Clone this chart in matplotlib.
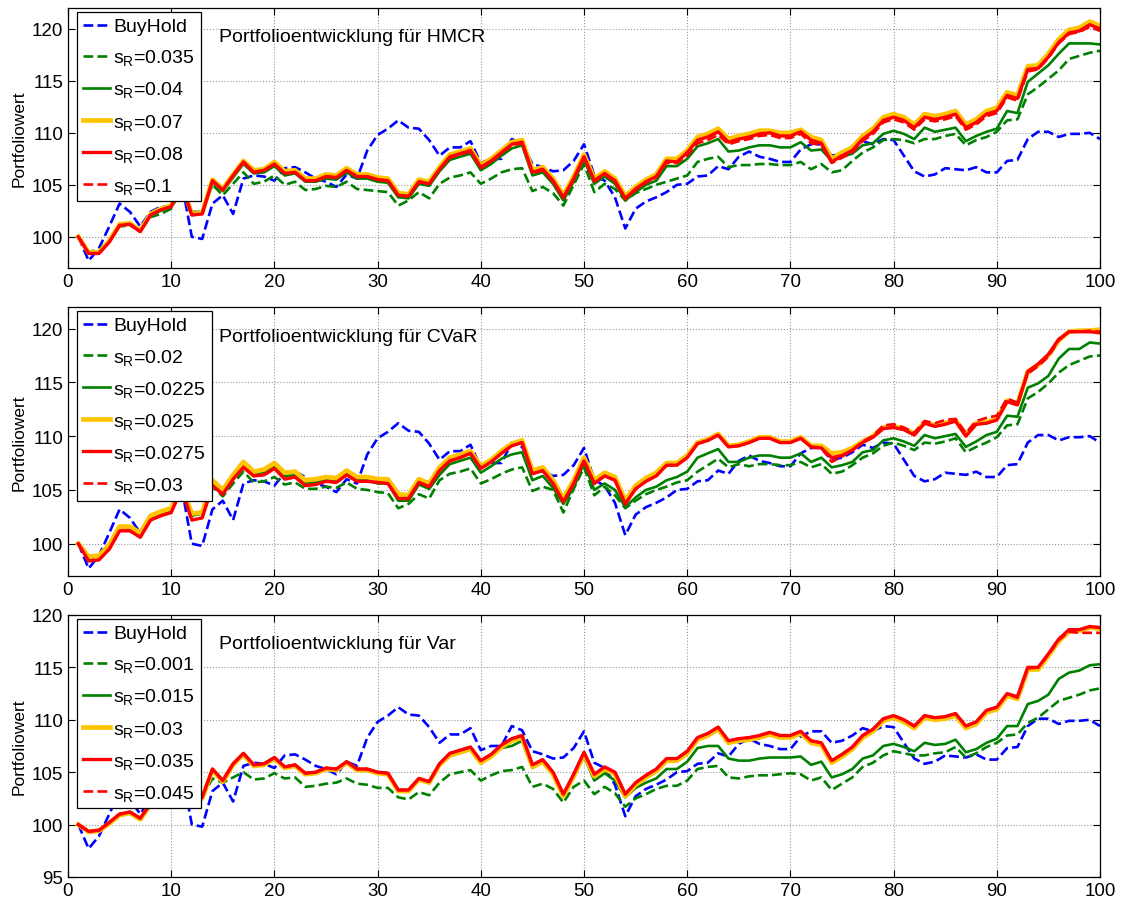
import numpy as np
import matplotlib
matplotlib.use("Agg")
import matplotlib.pyplot as plt

plt.rcParams["font.family"] = ["Liberation Sans", "DejaVu Sans"]
plt.rcParams["mathtext.default"] = "regular"

# time axis (1..100)
steps = np.arange(1, 101)

# BuyHold, identical in all three panels
buyhold = [
    100.0, 97.7, 98.9, 101.0, 103.2, 102.4, 101.0, 102.4, 102.9, 102.9,
    105.3, 100.0, 99.8, 103.2, 104.0, 102.2, 105.6, 105.9, 105.8, 105.4,
    106.6, 106.7, 106.2, 105.6, 105.3, 104.8, 106.0, 105.6, 108.3, 109.8,
    110.4, 111.2, 110.5, 110.4, 109.3, 107.8, 108.6, 108.6, 109.2, 107.1,
    107.5, 107.5, 109.4, 109.0, 107.0, 106.7, 106.3, 106.4, 107.3, 108.9,
    105.9, 105.4, 103.8, 100.8, 102.7, 103.4, 103.8, 104.3, 105.0, 105.1,
    105.8, 105.9, 106.8, 106.5, 107.7, 108.2, 107.7, 107.5, 107.2, 107.2,
    108.4, 108.9, 108.9, 107.8, 108.0, 108.5, 109.2, 108.9, 109.4, 109.3,
    107.8, 106.3, 105.8, 106.0, 106.6, 106.5, 106.4, 106.7, 106.2, 106.2,
    107.3, 107.4, 109.4, 110.1, 110.1, 109.6, 109.9, 109.9, 110.0, 109.4,
]

# ---- HMCR panel ----
hmcr_labels = ["0.035", "0.04", "0.07", "0.08", "0.1"]
hmcr_035 = [
    100.0, 98.6, 98.7, 99.7, 101.0, 101.1, 100.6, 101.9, 102.2, 102.7,
    104.6, 102.4, 102.4, 105.0, 104.0, 105.1, 106.2, 105.1, 105.3, 105.9,
    105.0, 105.3, 104.5, 104.6, 104.9, 104.8, 105.3, 104.6, 104.5, 104.4,
    104.3, 103.0, 103.5, 104.3, 103.7, 105.1, 105.7, 105.9, 106.2, 105.1,
    105.6, 106.2, 106.5, 106.6, 104.4, 104.8, 104.2, 103.0, 105.0, 107.0,
    104.3, 105.1, 104.6, 103.5, 104.2, 104.6, 105.0, 105.3, 105.6, 105.9,
    107.2, 107.5, 107.7, 106.7, 106.9, 106.9, 107.0, 107.0, 106.9, 106.9,
    107.2, 106.5, 107.0, 106.2, 106.4, 107.3, 108.1, 108.6, 109.3, 109.4,
    109.3, 109.0, 109.4, 109.4, 109.7, 109.9, 108.8, 109.3, 109.6, 110.1,
    111.2, 111.3, 113.7, 114.4, 115.2, 116.0, 117.1, 117.4, 117.7, 117.9,
]
hmcr_04 = [
    100.0, 98.5, 98.6, 99.6, 101.1, 101.2, 100.6, 102.1, 102.5, 102.8,
    104.9, 102.3, 102.4, 105.2, 104.4, 105.7, 107.0, 106.1, 106.2, 106.8,
    105.9, 106.1, 105.3, 105.3, 105.6, 105.5, 106.2, 105.6, 105.6, 105.3,
    105.2, 103.8, 103.7, 105.1, 104.9, 106.3, 107.4, 107.7, 108.0, 106.4,
    107.0, 107.8, 108.5, 108.8, 105.9, 106.2, 105.1, 103.5, 105.3, 107.4,
    105.1, 105.8, 105.1, 103.5, 104.3, 105.0, 105.4, 106.8, 106.8, 107.5,
    108.7, 109.0, 109.4, 108.2, 108.3, 108.6, 108.8, 108.8, 108.6, 108.6,
    109.1, 108.3, 108.4, 107.3, 107.7, 108.0, 108.8, 109.0, 109.9, 110.2,
    109.9, 109.4, 110.5, 110.1, 110.3, 110.5, 109.2, 109.7, 110.1, 110.4,
    112.1, 111.9, 114.9, 115.7, 116.5, 117.6, 118.6, 118.6, 118.6, 118.5,
]
hmcr_07 = [
    100.0, 98.5, 98.5, 99.6, 101.2, 101.3, 100.6, 102.2, 102.7, 103.0,
    105.1, 102.2, 102.3, 105.5, 104.6, 106.0, 107.3, 106.4, 106.5, 107.2,
    106.3, 106.4, 105.6, 105.6, 106.0, 105.9, 106.6, 106.0, 106.0, 105.7,
    105.6, 104.2, 104.1, 105.5, 105.3, 106.7, 107.9, 108.2, 108.5, 106.9,
    107.5, 108.3, 109.1, 109.3, 106.4, 106.7, 105.6, 104.0, 105.8, 107.9,
    105.6, 106.3, 105.6, 103.9, 104.8, 105.5, 106.0, 107.5, 107.5, 108.3,
    109.6, 109.9, 110.4, 109.4, 109.7, 109.9, 110.2, 110.2, 110.0, 110.0,
    110.3, 109.6, 109.3, 107.5, 108.1, 108.6, 109.7, 110.4, 111.5, 111.8,
    111.5, 110.8, 111.8, 111.6, 111.8, 112.1, 110.8, 111.3, 112.1, 112.4,
    113.9, 113.6, 116.4, 116.5, 117.6, 119.0, 119.9, 120.1, 120.7, 120.3,
]
hmcr_08 = [
    100.0, 98.4, 98.4, 99.5, 101.1, 101.2, 100.5, 102.1, 102.6, 102.9,
    105.0, 102.1, 102.2, 105.4, 104.5, 105.9, 107.2, 106.2, 106.4, 107.0,
    106.1, 106.2, 105.4, 105.4, 105.8, 105.7, 106.4, 105.8, 105.8, 105.5,
    105.4, 104.0, 103.9, 105.3, 105.1, 106.5, 107.7, 108.0, 108.3, 106.7,
    107.3, 108.1, 108.9, 109.1, 106.2, 106.5, 105.4, 103.8, 105.6, 107.7,
    105.4, 106.1, 105.4, 103.7, 104.6, 105.3, 105.8, 107.3, 107.2, 108.1,
    109.3, 109.6, 110.1, 109.1, 109.4, 109.6, 109.9, 110.0, 109.7, 109.7,
    110.1, 109.3, 109.0, 107.2, 107.8, 108.3, 109.4, 110.1, 111.2, 111.5,
    111.2, 110.5, 111.5, 111.3, 111.5, 111.8, 110.5, 111.0, 111.8, 112.1,
    113.6, 113.3, 116.1, 116.2, 117.3, 118.7, 119.6, 119.8, 120.4, 120.0,
]
hmcr_1 = [
    100.0, 98.4, 98.4, 99.5, 101.1, 101.2, 100.5, 102.1, 102.6, 102.9,
    105.0, 102.1, 102.2, 105.4, 104.5, 105.9, 107.2, 106.2, 106.4, 107.0,
    106.1, 106.2, 105.4, 105.4, 105.8, 105.7, 106.4, 105.8, 105.8, 105.5,
    105.4, 104.0, 103.9, 105.3, 105.1, 106.5, 107.6, 107.9, 108.2, 106.6,
    107.2, 108.0, 108.8, 109.0, 106.1, 106.4, 105.3, 103.7, 105.5, 107.6,
    105.3, 106.0, 105.3, 103.6, 104.5, 105.2, 105.7, 107.1, 107.1, 107.8,
    109.0, 109.3, 109.8, 108.9, 109.2, 109.4, 109.7, 109.8, 109.5, 109.5,
    109.9, 109.0, 108.8, 107.1, 107.6, 108.1, 109.2, 109.9, 111.0, 111.3,
    111.0, 110.3, 111.3, 111.1, 111.3, 111.6, 110.3, 110.8, 111.6, 111.9,
    113.4, 113.1, 115.9, 116.1, 117.2, 118.6, 119.5, 119.7, 120.2, 119.8,
]

# ---- CVaR panel ----
cvar_labels = ["0.02", "0.0225", "0.025", "0.0275", "0.03"]
cvar_02 = [
    100.0, 98.6, 98.8, 99.7, 101.3, 101.4, 100.8, 102.4, 102.8, 103.1,
    104.9, 102.7, 102.8, 105.3, 104.4, 105.6, 106.7, 105.7, 105.8, 106.2,
    105.5, 105.7, 105.1, 105.1, 105.3, 105.2, 105.7, 105.1, 105.0, 104.8,
    104.7, 103.3, 103.7, 104.6, 104.2, 105.9, 106.5, 106.7, 107.0, 105.6,
    106.0, 106.5, 106.9, 107.1, 104.9, 105.3, 105.0, 102.9, 105.1, 107.1,
    104.5, 105.3, 104.5, 103.3, 104.0, 104.6, 105.0, 105.3, 105.7, 105.9,
    106.7, 107.3, 107.9, 107.1, 107.4, 107.2, 107.4, 107.4, 107.3, 107.3,
    107.6, 107.1, 107.4, 106.5, 106.7, 107.3, 108.0, 108.4, 109.1, 109.4,
    109.1, 108.7, 109.4, 109.3, 109.5, 109.8, 108.5, 109.0, 109.4, 109.9,
    111.0, 111.1, 113.5, 114.1, 114.9, 115.9, 116.6, 117.0, 117.4, 117.5,
]
cvar_0225 = [
    100.0, 98.7, 98.9, 99.8, 101.5, 101.5, 100.9, 102.5, 102.9, 103.2,
    105.2, 102.6, 102.8, 105.5, 104.8, 106.1, 107.3, 106.5, 106.6, 107.2,
    106.3, 106.4, 105.6, 105.7, 105.9, 105.8, 106.5, 105.9, 105.9, 105.6,
    105.6, 104.0, 104.0, 105.5, 105.1, 106.4, 107.4, 107.7, 108.0, 106.6,
    107.2, 107.9, 108.3, 108.5, 105.9, 106.3, 105.2, 103.7, 105.2, 107.5,
    105.0, 105.6, 105.0, 103.4, 104.3, 105.0, 105.3, 105.9, 106.2, 106.7,
    108.0, 108.4, 108.8, 107.6, 107.6, 108.0, 108.2, 108.2, 108.0, 108.0,
    108.4, 107.6, 108.0, 107.1, 107.3, 107.6, 108.5, 108.7, 109.6, 109.8,
    109.5, 109.1, 110.1, 109.8, 110.0, 110.2, 109.0, 109.5, 110.1, 110.4,
    111.9, 111.8, 114.5, 114.9, 115.6, 117.2, 118.1, 118.1, 118.7, 118.6,
]
cvar_025 = [
    100.0, 98.8, 98.9, 99.9, 101.6, 101.6, 101.0, 102.6, 103.0, 103.3,
    105.4, 102.8, 102.9, 105.9, 105.0, 106.4, 107.6, 106.7, 106.9, 107.5,
    106.6, 106.7, 105.9, 106.0, 106.2, 106.1, 106.8, 106.2, 106.2, 106.0,
    106.0, 104.6, 104.5, 106.0, 105.6, 107.1, 108.0, 108.3, 108.6, 107.2,
    107.8, 108.6, 109.3, 109.6, 106.8, 107.1, 105.9, 104.2, 105.9, 108.0,
    105.9, 106.6, 106.2, 104.0, 105.4, 106.1, 106.6, 107.5, 107.5, 108.2,
    109.4, 109.7, 110.2, 109.1, 109.2, 109.5, 109.9, 109.9, 109.5, 109.5,
    109.9, 109.1, 109.1, 108.4, 108.5, 108.9, 109.5, 110.0, 110.8, 110.9,
    110.7, 110.2, 111.3, 111.0, 111.2, 111.5, 110.1, 111.2, 111.3, 111.6,
    113.3, 113.0, 116.0, 116.6, 117.5, 118.9, 119.7, 119.8, 119.8, 119.9,
]
cvar_0275 = [
    100.0, 98.4, 98.5, 99.5, 101.2, 101.2, 100.6, 102.2, 102.6, 102.9,
    105.1, 102.2, 102.4, 105.4, 104.6, 106.0, 107.1, 106.3, 106.4, 107.0,
    106.0, 106.2, 105.4, 105.5, 105.8, 105.7, 106.4, 105.8, 105.8, 105.7,
    105.6, 104.2, 104.2, 105.7, 105.3, 106.8, 107.7, 108.0, 108.4, 107.0,
    107.6, 108.4, 109.1, 109.4, 106.5, 106.8, 105.6, 103.9, 105.6, 107.7,
    105.6, 106.3, 105.9, 103.7, 105.1, 105.8, 106.3, 107.3, 107.3, 108.0,
    109.3, 109.6, 110.1, 109.0, 109.1, 109.4, 109.8, 109.8, 109.4, 109.4,
    109.8, 109.0, 108.9, 108.0, 108.2, 108.7, 109.4, 109.9, 110.7, 110.8,
    110.6, 110.1, 111.2, 110.9, 111.1, 111.4, 110.0, 111.1, 111.2, 111.5,
    113.2, 112.9, 116.0, 116.7, 117.6, 119.0, 119.7, 119.7, 119.7, 119.6,
]
cvar_03 = [
    100.0, 98.4, 98.5, 99.5, 101.2, 101.2, 100.6, 102.2, 102.6, 102.9,
    105.1, 102.2, 102.4, 105.4, 104.6, 106.0, 107.1, 106.3, 106.4, 107.0,
    106.0, 106.2, 105.4, 105.5, 105.8, 105.7, 106.4, 105.8, 105.8, 105.7,
    105.6, 104.2, 104.2, 105.7, 105.3, 106.8, 107.7, 108.0, 108.4, 107.0,
    107.6, 108.4, 109.1, 109.4, 106.5, 106.8, 105.6, 103.9, 105.6, 107.7,
    105.6, 106.3, 105.9, 103.7, 105.1, 105.8, 106.3, 107.3, 107.3, 108.0,
    109.3, 109.6, 110.1, 109.0, 109.1, 109.4, 109.8, 109.8, 109.4, 109.4,
    109.8, 109.0, 108.9, 107.6, 108.1, 108.7, 109.5, 110.0, 111.0, 111.1,
    110.8, 110.3, 111.4, 111.2, 111.5, 111.6, 110.3, 111.4, 111.7, 111.9,
    113.5, 113.1, 115.8, 116.5, 117.4, 118.9, 119.7, 119.7, 119.8, 119.7,
]

# ---- VaR panel ----
var_labels = ["0.001", "0.015", "0.03", "0.035", "0.045"]
var_001 = [
    100.0, 99.4, 99.5, 100.2, 101.0, 101.2, 100.6, 102.0, 102.4, 102.7,
    104.6, 102.5, 102.6, 104.4, 104.0, 104.5, 105.0, 104.3, 104.4, 104.9,
    104.4, 104.5, 103.6, 103.7, 103.9, 104.0, 104.4, 103.9, 103.8, 103.5,
    103.5, 102.6, 102.4, 103.1, 102.8, 104.0, 104.8, 105.0, 105.2, 104.2,
    104.7, 105.1, 105.2, 105.5, 103.6, 103.9, 103.4, 102.1, 103.6, 104.2,
    102.9, 103.6, 103.0, 101.7, 102.5, 102.9, 103.4, 103.7, 103.7, 104.2,
    105.3, 105.5, 105.6, 104.5, 104.4, 104.6, 104.7, 104.7, 104.8, 104.9,
    104.8, 104.2, 104.5, 103.3, 103.9, 104.5, 105.5, 105.9, 106.6, 107.0,
    106.8, 106.6, 106.6, 106.8, 106.9, 107.4, 106.4, 106.8, 107.4, 107.8,
    108.5, 108.6, 109.7, 110.2, 111.0, 111.8, 112.1, 112.4, 112.8, 113.0,
]
var_015 = [
    100.0, 99.3, 99.4, 100.2, 101.0, 101.2, 100.6, 102.0, 102.4, 102.8,
    104.8, 102.5, 102.6, 105.3, 104.2, 105.8, 106.8, 105.7, 105.8, 106.4,
    105.5, 105.7, 104.9, 105.0, 105.4, 105.3, 106.0, 105.3, 105.3, 105.0,
    104.9, 103.3, 103.3, 104.4, 104.1, 105.7, 106.6, 106.9, 107.2, 106.0,
    106.6, 107.3, 107.5, 108.0, 105.4, 106.0, 104.8, 102.8, 104.6, 106.5,
    104.2, 104.9, 104.2, 102.6, 103.5, 104.0, 104.4, 105.3, 105.3, 106.0,
    107.3, 107.5, 107.5, 106.3, 106.1, 106.1, 106.3, 106.4, 106.4, 106.4,
    106.5, 105.7, 106.0, 104.5, 104.8, 105.3, 106.3, 106.6, 107.5, 107.7,
    107.4, 107.0, 107.8, 107.6, 107.7, 108.1, 106.9, 107.2, 107.8, 108.2,
    109.4, 109.4, 111.5, 111.8, 112.4, 113.9, 114.5, 114.7, 115.2, 115.3,
]
var_03 = [
    100.0, 99.3, 99.4, 100.1, 100.9, 101.1, 100.5, 101.9, 102.3, 102.7,
    104.7, 102.4, 102.5, 105.2, 104.1, 105.7, 106.7, 105.6, 105.7, 106.3,
    105.4, 105.6, 104.8, 104.9, 105.3, 105.2, 105.9, 105.2, 105.2, 104.9,
    104.8, 103.2, 103.2, 104.3, 104.0, 105.7, 106.6, 106.9, 107.2, 105.9,
    106.5, 107.4, 108.0, 108.3, 105.5, 106.0, 104.8, 102.7, 104.6, 106.7,
    104.6, 105.3, 104.8, 102.7, 103.8, 104.5, 105.1, 106.1, 106.1, 106.8,
    108.1, 108.5, 109.1, 107.8, 108.0, 108.1, 108.3, 108.6, 108.3, 108.3,
    108.7, 107.8, 107.6, 105.9, 106.5, 107.2, 108.3, 108.9, 109.9, 110.2,
    109.8, 109.2, 110.2, 110.0, 110.1, 110.4, 109.2, 109.6, 110.7, 111.0,
    112.3, 112.0, 114.8, 114.8, 116.1, 117.5, 118.4, 118.5, 118.8, 118.7,
]
var_035 = [
    100.0, 99.35, 99.45, 100.2, 101.0, 101.2, 100.6, 102.0, 102.4, 102.8,
    104.8, 102.5, 102.6, 105.3, 104.2, 105.8, 106.8, 105.7, 105.8, 106.4,
    105.5, 105.7, 104.9, 105.0, 105.4, 105.3, 106.0, 105.3, 105.3, 105.0,
    104.9, 103.3, 103.3, 104.4, 104.1, 105.8, 106.8, 107.1, 107.4, 106.1,
    106.7, 107.6, 108.2, 108.5, 105.7, 106.2, 105.0, 102.9, 104.8, 106.9,
    104.8, 105.5, 105.0, 102.9, 104.0, 104.7, 105.3, 106.3, 106.3, 107.0,
    108.3, 108.7, 109.3, 108.0, 108.2, 108.3, 108.5, 108.8, 108.5, 108.5,
    108.9, 108.0, 107.8, 106.1, 106.7, 107.4, 108.5, 109.1, 110.1, 110.4,
    110.0, 109.4, 110.4, 110.2, 110.3, 110.6, 109.4, 109.8, 110.9, 111.2,
    112.5, 112.2, 115.0, 115.0, 116.3, 117.7, 118.6, 118.6, 118.9, 118.8,
]
var_045 = [
    100.0, 99.35, 99.45, 100.2, 101.0, 101.2, 100.6, 102.0, 102.4, 102.8,
    104.8, 102.5, 102.6, 105.3, 104.2, 105.8, 106.8, 105.7, 105.8, 106.4,
    105.5, 105.7, 104.9, 105.0, 105.4, 105.3, 106.0, 105.3, 105.3, 105.0,
    104.9, 103.3, 103.3, 104.4, 104.1, 105.8, 106.8, 107.1, 107.4, 106.1,
    106.7, 107.6, 108.2, 108.5, 105.7, 106.2, 105.0, 102.9, 104.8, 106.9,
    104.8, 105.5, 105.0, 102.9, 104.0, 104.7, 105.3, 106.3, 106.3, 107.0,
    108.3, 108.7, 109.3, 108.0, 108.2, 108.3, 108.5, 108.8, 108.5, 108.5,
    108.9, 108.0, 107.8, 106.1, 106.7, 107.4, 108.5, 109.1, 110.1, 110.4,
    110.0, 109.4, 110.4, 110.2, 110.3, 110.6, 109.4, 109.8, 110.9, 111.2,
    112.5, 112.1, 114.9, 115.0, 116.2, 117.6, 118.4, 118.3, 118.3, 118.3,
]

# line styles in plotting / legend order (after BuyHold)
styles = [
    dict(color=(0, 0.5, 0), ls="--", lw=1.9),
    dict(color=(0, 0.5, 0), ls="-", lw=1.9),
    dict(color="#FFC400", ls="-", lw=3.4),
    dict(color=(1, 0, 0), ls="-", lw=2.4),
    dict(color=(1, 0, 0), ls="--", lw=1.9),
]

panels = [
    ("HMCR", hmcr_labels, [hmcr_035, hmcr_04, hmcr_07, hmcr_08, hmcr_1],
     [0.0606, 0.7024, 0.9198, 0.2876], (97, 122), [100, 105, 110, 115, 120]),
    ("CVaR", cvar_labels, [cvar_02, cvar_0225, cvar_025, cvar_0275, cvar_03],
     [0.0606, 0.3617, 0.9198, 0.2976], (97, 122), [100, 105, 110, 115, 120]),
    ("Var", var_labels, [var_001, var_015, var_03, var_035, var_045],
     [0.0606, 0.0288, 0.9198, 0.2898], (95, 120), [95, 100, 105, 110, 115, 120]),
]

fig = plt.figure(figsize=(11.22, 9.04), dpi=100)

for name, labels, series, rect, ylim, yticks in panels:
    ax = fig.add_axes(rect)
    ax.plot(steps, buyhold, color=(0, 0, 1), ls="--", lw=1.9, label="BuyHold")
    for vals, lab, st in zip(series, labels, styles):
        ax.plot(steps, vals, label=r"$s_R$=" + lab, **st)

    ax.set_xlim(0, 100)
    ax.set_ylim(*ylim)
    ax.set_xticks(range(0, 101, 10))
    ax.set_yticks(yticks)
    ax.tick_params(direction="in", top=True, right=True, length=5,
                   labelsize=13.5, width=0.8)
    ax.grid(True, linestyle=":", color="#9a9a9a", linewidth=0.8)
    for sp in ax.spines.values():
        sp.set_linewidth(0.9)
    ax.set_ylabel("Portfoliowert", fontsize=12.5)

    ax.text(0.146, 0.89, "Portfolioentwicklung für " + name,
            transform=ax.transAxes, fontsize=14, va="center", ha="left")

    leg = ax.legend(loc="upper left", bbox_to_anchor=(0.009, 0.985),
                    borderaxespad=0, fontsize=14, fancybox=False,
                    edgecolor="black", framealpha=1, handlelength=1.4,
                    handletextpad=0.15, labelspacing=0.62, borderpad=0.3)
    leg.get_frame().set_linewidth(0.9)

fig.savefig("out.png", dpi=100)
